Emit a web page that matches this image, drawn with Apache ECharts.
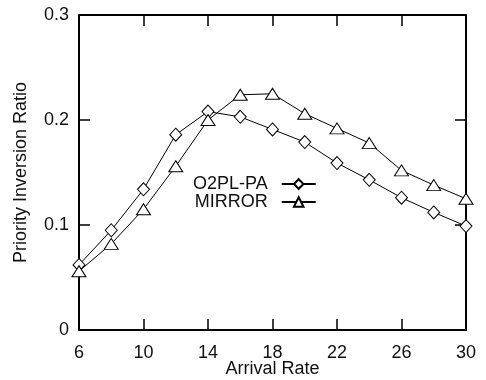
<!DOCTYPE html>
<html>
<head>
<meta charset="utf-8">
<script src="https://cdn.jsdelivr.net/npm/echarts@6/dist/echarts.min.js"></script>
<style>
html,body{margin:0;padding:0;background:#fff;}
#chart{width:486px;height:380px;}
</style>
</head>
<body>
<div id="chart"></div>
<script>
const arrivalRates = [6, 8, 10, 12, 14, 16, 18, 20, 22, 24, 26, 28, 30];
const o2plPA = [0.062, 0.095, 0.134, 0.186, 0.208, 0.203, 0.191, 0.179, 0.159, 0.143, 0.126, 0.112, 0.099];
const mirror = [0.056, 0.082, 0.115, 0.156, 0.200, 0.224, 0.225, 0.206, 0.192, 0.178, 0.152, 0.138, 0.125];
const seriesNames = ['O2PL-PA', 'MIRROR'];
const xTitle = 'Arrival Rate';
const yTitle = 'Priority Inversion Ratio';

const FONT = 'Liberation Sans, Arial, Helvetica, sans-serif';
const pair = (xs, ys) => xs.map((x, i) => [x, ys[i]]);

const chart = echarts.init(document.getElementById('chart'), null, {renderer: 'canvas'});
const axisCommon = {
  axisLine: {show: true, onZero: false, lineStyle: {color: '#000', width: 2}},
  axisTick: {show: true, inside: true, length: 11, lineStyle: {color: '#000', width: 1.5}},
  splitLine: {show: false}
};
chart.setOption({
  animation: false,
  backgroundColor: '#fff',
  grid: {left: 79, right: 20, top: 15, bottom: 50, containLabel: false, outerBoundsMode: 'none'},
  legend: {
    orient: 'vertical',
    align: 'right',
    left: 193,
    top: 175,
    padding: 0,
    itemGap: 0,
    itemWidth: 34,
    itemHeight: 12,
    textStyle: {fontFamily: FONT, fontSize: 18, color: '#111', padding: [0, 9, 0, 0]},
    data: seriesNames
  },
  xAxis: [
    Object.assign({}, axisCommon, {
      type: 'value', position: 'bottom', min: 6, max: 30, interval: 4,
      name: xTitle, nameLocation: 'middle', nameGap: 30, nameMoveOverlap: false,
      nameTextStyle: {fontFamily: FONT, fontSize: 18, color: '#111'},
      axisLabel: {fontFamily: FONT, fontSize: 18, color: '#111', margin: 14}
    }),
    Object.assign({}, axisCommon, {
      type: 'value', position: 'top', min: 6, max: 30, interval: 4,
      axisLabel: {show: false}
    })
  ],
  yAxis: [
    Object.assign({}, axisCommon, {
      type: 'value', position: 'left', min: 0, max: 0.3, interval: 0.1,
      name: yTitle, nameLocation: 'middle', nameGap: 49, nameMoveOverlap: false,
      nameTextStyle: {fontFamily: FONT, fontSize: 18, color: '#111'},
      axisLabel: {fontFamily: FONT, fontSize: 18, color: '#111', margin: 10,
        formatter: v => (Math.round(v * 10) / 10).toString()}
    }),
    Object.assign({}, axisCommon, {
      type: 'value', position: 'right', min: 0, max: 0.3, interval: 0.1,
      axisLabel: {show: false}
    })
  ],
  series: [
    {
      name: seriesNames[0], type: 'line', xAxisIndex: 0, yAxisIndex: 0,
      data: pair(arrivalRates, o2plPA),
      symbol: 'diamond', symbolSize: [12, 13], showAllSymbol: true,
      lineStyle: {color: '#000', width: 1},
      itemStyle: {color: '#fff', borderColor: '#000', borderWidth: 1},
      emphasis: {disabled: true}
    },
    {
      name: seriesNames[1], type: 'line', xAxisIndex: 0, yAxisIndex: 0,
      data: pair(arrivalRates, mirror),
      symbol: 'triangle', symbolSize: [14, 11], showAllSymbol: true,
      lineStyle: {color: '#000', width: 1},
      itemStyle: {color: '#fff', borderColor: '#000', borderWidth: 1},
      emphasis: {disabled: true}
    }
  ]
});
</script>
</body>
</html>
